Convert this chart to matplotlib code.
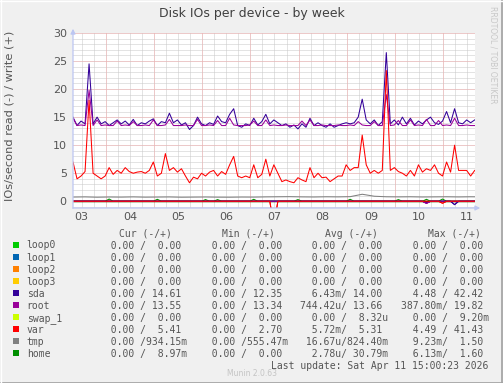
import numpy as np
import matplotlib
matplotlib.use("Agg")
import matplotlib.pyplot as plt
from matplotlib.patches import Rectangle

W, H = 503, 383

# time axis: day of month at left edge, samples every 2 hours
t_start = 3.32
t_end = 11.66
step_h = 2

# write (+) values, IOs/s
sda_w = [15.0, 13.5, 14.3, 13.8, 24.5, 13.8, 15.0, 13.8, 14.2, 13.5,
         14.0, 14.5, 13.8, 14.3, 13.6, 14.6, 13.5, 14.0, 13.8, 14.3,
         14.7, 13.5, 14.2, 14.0, 15.7, 14.0, 14.5, 13.6, 14.0, 12.8,
         13.5, 15.0, 13.8, 13.5, 14.0, 13.7, 15.2, 14.2, 14.0, 15.5,
         16.5, 13.5, 13.2, 13.8, 13.5, 14.8, 13.6, 14.2, 15.5, 13.8,
         14.5, 14.0, 13.5, 13.8, 13.2, 13.6, 12.9, 13.8, 13.2, 14.8,
         13.5, 14.0, 13.5, 13.2, 13.8, 13.2, 13.5, 13.8, 14.0, 13.8,
         14.0, 15.0, 18.2, 14.5, 13.8, 14.5, 13.5, 14.2, 26.5, 13.8,
         14.5, 13.6, 15.0, 13.8, 14.8, 13.6, 14.3, 13.8, 14.5, 15.0,
         14.0, 13.7, 14.3, 16.0, 14.0, 16.5, 14.0, 13.8, 14.5, 14.0,
         14.5]

root_w = [14.8, 13.5, 13.6, 13.5, 19.8, 13.5, 14.5, 13.5, 13.6, 13.5,
          13.5, 14.3, 13.5, 13.6, 13.5, 14.2, 13.5, 13.5, 13.6, 13.5,
          14.5, 13.5, 13.5, 13.6, 14.6, 13.5, 13.5, 13.5, 13.6, 13.5,
          13.5, 14.6, 13.5, 13.5, 13.6, 13.5, 14.4, 13.5, 13.5, 14.8,
          13.6, 13.5, 13.5, 13.5, 13.6, 14.3, 13.5, 13.5, 14.5, 13.5,
          13.6, 13.5, 13.5, 13.6, 13.5, 13.5, 13.5, 14.3, 13.5, 14.5,
          13.5, 13.5, 13.6, 13.5, 13.5, 13.5, 13.6, 13.5, 13.5, 13.6,
          13.5, 14.2, 13.6, 13.5, 13.5, 14.2, 13.5, 13.5, 19.0, 13.5,
          13.6, 14.4, 13.5, 13.5, 14.5, 13.5, 13.6, 13.5, 14.6, 13.5,
          13.5, 14.4, 13.5, 13.6, 13.5, 14.8, 13.5, 13.5, 13.6, 13.5,
          13.5]

var_w = [7.0, 4.0, 4.5, 5.3, 18.0, 5.0, 4.5, 4.0, 4.5, 6.0,
         4.8, 5.5, 5.0, 6.0, 5.3, 5.0, 5.2, 5.3, 5.0, 5.5,
         7.0, 4.5, 5.0, 8.5, 5.5, 6.0, 5.2, 5.8, 4.5, 3.3,
         4.3, 4.0, 5.0, 4.5, 5.2, 5.5, 4.5, 5.3, 4.8, 6.5,
         8.0, 4.5, 4.2, 4.5, 4.2, 6.5, 4.2, 4.8, 7.5, 4.5,
         6.5, 5.0, 3.5, 3.8, 3.5, 3.3, 4.2, 3.8, 3.5, 6.0,
         4.2, 5.0, 4.2, 4.3, 3.5, 4.0, 4.5, 4.5, 6.5, 5.5,
         6.0, 6.0, 11.8, 6.5, 5.0, 5.5, 5.0, 5.5, 23.3, 5.5,
         6.0, 5.3, 5.0, 4.5, 5.5, 4.5, 6.5, 5.2, 5.8, 5.5,
         6.5, 5.0, 4.5, 7.0, 5.2, 10.0, 5.5, 5.5, 5.5, 4.5,
         5.5]

# tmp write, sampled every 6 hours
tmp_step_h = 6
tmp_w = [0.75, 0.78, 0.72, 0.76, 0.74, 0.78, 0.73, 0.75, 0.77, 0.72,
         0.74, 0.76, 0.73, 0.72, 0.75, 0.74, 0.78, 0.80, 0.82, 0.78,
         0.76, 0.80, 0.78, 0.82, 1.25, 0.90, 0.80, 0.78, 0.80, 0.76,
         0.78, 0.80, 0.77, 0.80, 0.78]

# sparse events (sample index, value)
home_w_idx = [9, 21, 33, 36, 45, 56, 69, 81, 88, 92]
home_w_val = [0.4, 0.35, 0.3, 0.3, 0.35, 0.3, 0.35, 0.3, 0.35, 0.4]
var_r_idx = [50, 92]
var_r_val = [-4.49, -0.35]
sda_r_idx = [88, 95]
sda_r_val = [-0.3, -0.6]
root_r_idx = [88]
root_r_val = [-0.39]

# legend table
names = ["loop0", "loop1", "loop2", "loop3", "sda", "root", "swap_1", "var", "tmp", "home"]
colors = ["#00CC00", "#0066B3", "#FF8000", "#FFCC00", "#330099",
          "#990099", "#CCFF00", "#FF0000", "#808080", "#008F00"]
headers = ["Cur (-/+)", "Min (-/+)", "Avg (-/+)", "Max (-/+)"]
z = "  0.00 /  0.00 "
cur_col = [z, z, z, z, "  0.00 / 14.61 ", "  0.00 / 13.55 ", z,
           "  0.00 /  5.41 ", "  0.00 /934.15m", "  0.00 /  8.97m"]
min_col = [z, z, z, z, "  0.00 / 12.35 ", "  0.00 / 13.34 ", z,
           "  0.00 /  2.70 ", "  0.00 /555.47m", z]
avg_col = [z, z, z, z, "  6.43m/ 14.00 ", "744.42u/ 13.66 ", "  0.00 /  8.32u",
           "  5.72m/  5.31 ", " 16.67u/824.40m", "  2.78u/ 30.79m"]
max_col = [z, z, z, z, "  4.48 / 42.42 ", "387.80m/ 19.82 ", "  0.00 /  9.20m",
           "  4.49 / 41.43 ", "  9.23m/  1.50 ", "  6.13m/  1.60 "]

n = len(sda_w)
t = t_start + np.arange(n) * step_h / 24.0
t_tmp = t_start + np.arange(len(tmp_w)) * tmp_step_h / 24.0


def sparse(idx, val):
    a = np.zeros(n)
    a[idx] = val
    return a


series_w = {"sda": np.array(sda_w), "root": np.array(root_w), "var": np.array(var_w),
            "home": sparse(home_w_idx, home_w_val)}
series_r = {"sda": sparse(sda_r_idx, sda_r_val), "root": sparse(root_r_idx, root_r_val),
            "var": sparse(var_r_idx, var_r_val)}

fig = plt.figure(figsize=(W / 100, H / 100), dpi=100, facecolor="#F0F0F0")
ax = fig.add_axes([73 / W, (H - 208) / H, 402 / W, 175 / H], zorder=1)
ax.set_facecolor("white")
for s in ax.spines.values():
    s.set_visible(False)
ax.set_xlim(t_start, t_end)
ax.set_ylim(-1.2, 30)

# grid
for d in np.arange(3.25, 12, 0.25):
    ax.axvline(d, color="#C8C8C8", lw=0.72, ls=(0, (1, 1)), zorder=0)
for y in range(-1, 31):
    ax.axhline(y, color="#C8C8C8", lw=0.72, ls=(0, (1, 1)), zorder=0)
for d in range(4, 12):
    ax.axvline(d, color="#F5B0B0", lw=0.72, ls=(0, (1, 1)), zorder=0.5)
for y in range(0, 31, 5):
    ax.axhline(y, color="#F5B0B0", lw=0.72, ls=(0, (1, 1)), zorder=0.5)

# series
for i, name in enumerate(names):
    c = colors[i]
    if name == "tmp":
        ax.plot(t, np.zeros(n), color=c, lw=0.75, zorder=2)
        ax.plot(t_tmp, tmp_w, color=c, lw=0.75, zorder=2)
        continue
    ax.plot(t, series_r.get(name, np.zeros(n)), color=c, lw=0.75, zorder=2)
    ax.plot(t, series_w.get(name, np.zeros(n)), color=c, lw=0.75, zorder=2)
ax.axhline(0, color="black", lw=0.9, zorder=2.5)
# read dips drawn above the zero line
for name in ["sda", "root", "var"]:
    ax.plot(t, series_r[name], color=colors[names.index(name)], lw=0.75, zorder=3)

ax.set_yticks(range(0, 31, 5))
ax.set_xticks(np.arange(3.5, 11.6, 1.0))
ax.set_xticklabels(["%02d" % d for d in range(3, 12)])
ax.tick_params(length=0, labelsize=8, labelcolor="#555555")
ax.tick_params(axis="y", pad=4.5)
ax.tick_params(axis="x", pad=3)

# overlay in pixel coordinates
ov = fig.add_axes([0, 0, 1, 1], zorder=2)
ov.set_xlim(0, W)
ov.set_ylim(H, 0)
ov.axis("off")

axis_c = "#BCC6F2"
ov.annotate("", xy=(483, 208), xytext=(70, 208),
            arrowprops=dict(arrowstyle="-|>", color=axis_c, lw=0.9, mutation_scale=7))
ov.annotate("", xy=(73, 26), xytext=(73, 211),
            arrowprops=dict(arrowstyle="-|>", color=axis_c, lw=0.9, mutation_scale=7))

ov.text(252, 13.5, "Disk IOs per device - by week", ha="center", va="center",
        fontsize=9, color="#404040")
ov.text(10, 116, "IOs/second read (-) / write (+)", rotation=90, ha="center",
        va="center", fontsize=8.2, color="#555555")
ov.text(493, 55, "RRDTOOL / TOBI OETIKER", rotation=270, ha="center", va="center",
        fontsize=5.5, color="#C8C8C8")

mono = "DejaVu Sans Mono"
header_x = [118.7, 221.7, 325, 428.3]
col_x = [99, 200, 300.5, 401]
for hx, h in zip(header_x, headers):
    ov.text(hx, 233.3 + 3.5, h, family=mono, fontsize=7, color="#555555", va="baseline")

cols = [cur_col, min_col, avg_col, max_col]
for i, name in enumerate(names):
    yc = 245 + i * 12.03
    ov.add_patch(Rectangle((13, yc - 3), 6, 6, facecolor=colors[i], edgecolor="none"))
    ov.text(26.7, yc + 3.5, name, family=mono, fontsize=7, color="#555555", va="baseline")
    for cx, col in zip(col_x, cols):
        ov.text(cx, yc + 3.5, col[i], family=mono, fontsize=7, color="#555555",
                va="baseline")

ov.text(488.5, 365.3 + 3.5, "Last update: Sat Apr 11 15:00:23 2026", family=mono,
        fontsize=7, color="#555555", va="baseline", ha="right")
ov.text(251.7, 373, "Munin 2.0.63", ha="center", va="center", fontsize=5.5,
        color="#C4C4C4")

# frame
ov.plot([0.5, W - 0.5], [H - 0.5, H - 0.5], color="#A0A0A0", lw=1.2)
ov.plot([W - 0.5, W - 0.5], [0, H], color="#A0A0A0", lw=1.2)
ov.plot([0, W], [0.5, 0.5], color="#FFFFFF", lw=1.0)
ov.plot([0.5, 0.5], [0, H], color="#FFFFFF", lw=1.0)

fig.savefig("out.png", dpi=100, facecolor=fig.get_facecolor())
